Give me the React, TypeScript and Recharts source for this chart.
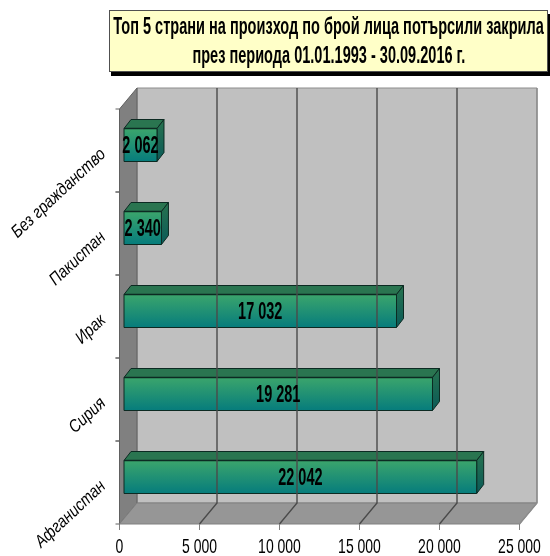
import { BarChart, Bar, XAxis, YAxis, ReferenceArea, ReferenceLine } from 'recharts';

const countries = ['Без гражданство', 'Пакистан', 'Ирак', 'Сирия', 'Афганистан'];
const applicants = [2062, 2340, 17032, 19281, 22042];
const valueTicks = [0, 5000, 10000, 15000, 20000, 25000];

const chartData = countries.map((name, i) => ({ name, value: applicants[i] }));

const SANS = '"Liberation Sans", sans-serif';
const PLOT_TOP = 109;
const DEPTH_X = 17.5;
const DEPTH_Y = -21;
const BAR_DX = 4.5;
const BAR_DY = -5.5;

type Pt = [number, number];

function pts(list: Pt[]) {
  return list.map((p) => p.join(',')).join(' ');
}

const fmt = (v: number) => String(v).replace(/\B(?=(\d{3})+$)/g, ' ');

function Walls({ x, y, width, height }: any) {
  const fl: Pt = [x, y];
  const fb: Pt = [x, y + height];
  const rt: Pt = [x + width, y];
  const rb: Pt = [x + width, y + height];
  const back = ([a, b]: Pt): Pt => [a + DEPTH_X, b + DEPTH_Y];
  return (
    <g>
      <polygon points={pts([back(fl), back(rt), back(rb), back(fb)])} fill="#c0c0c0" stroke="#8c8c8c" />
      <polygon points={pts([fl, back(fl), back(fb), fb])} fill="#808080" stroke="#606060" />
      <polygon points={pts([fb, back(fb), back(rb), rb])} fill="#969696" stroke="#808080" />
    </g>
  );
}

function GridLine({ x1, y1, y2 }: any) {
  const top = Math.min(y1, y2);
  const bottom = Math.max(y1, y2);
  const d = pts([
    [x1 + DEPTH_X, top + DEPTH_Y],
    [x1 + DEPTH_X, bottom + DEPTH_Y],
    [x1, bottom],
  ]);
  return <polyline points={d} fill="none" stroke={x1 >= 518 ? '#8c8c8c' : '#4a4a4a'} strokeWidth={1.4} />;
}

function Bar3D({ x, y, width, height }: any) {
  const l = x + BAR_DX;
  const t = y + BAR_DY;
  const a: Pt = [l, t];
  const b: Pt = [l + width, t];
  const c: Pt = [l + width, t + height];
  const d: Pt = [l, t + height];
  const shift = (p: Pt): Pt => [p[0] + 7, p[1] - 9];
  return (
    <g stroke="#0c2a22" strokeWidth={1}>
      <polygon points={pts([a, shift(a), shift(b), b])} fill="#2a7550" />
      <polygon points={pts([b, shift(b), shift(c), c])} fill="url(#sideFill)" />
      <polygon points={pts([a, b, c, d])} fill="url(#frontFill)" />
      <line x1={a[0]} y1={a[1]} x2={b[0]} y2={b[1]} strokeWidth={1.6} />
    </g>
  );
}

function BarValue({ x, y, width, height, value }: any) {
  const cx = x + width / 2 + BAR_DX;
  const cy = y + height / 2 + BAR_DY;
  return (
    <text
      transform={`translate(${cx} ${cy}) scale(0.63 1)`}
      textAnchor="middle"
      dominantBaseline="central"
      fontFamily={SANS}
      fontWeight="bold"
      fontSize={23}
      fill="#000"
    >
      {fmt(value)}
    </text>
  );
}

function CountryTick({ x, y, payload }: any) {
  const half = 41.5;
  const edge = x;
  return (
    <g>
      <line x1={edge - 4} x2={edge} y1={y + half} y2={y + half} stroke="#606060" />
      <line x1={edge - 4} x2={edge} y1={y - half} y2={y - half} stroke="#606060" />
      <text
        transform={`translate(${x - 13} ${y + 5}) rotate(-43) scale(0.84 1)`}
        textAnchor="end"
        fontFamily={SANS}
        fontStyle="italic"
        fontSize={17.5}
        fill="#000"
      >
        {payload.value}
      </text>
    </g>
  );
}

function ValueTick({ x, y, payload }: any) {
  return (
    <text
      transform={`translate(${x} ${y + 21}) scale(0.7 1)`}
      textAnchor="middle"
      fontFamily={SANS}
      fontSize={20}
      fill="#000"
    >
      {fmt(payload.value)}
    </text>
  );
}

export default function App() {
  return (
    <div style={{ position: 'absolute', left: 0, top: 0, width: 550, height: 556, background: '#fff', filter: 'blur(0.4px)' }}>
      <div
        style={{
          position: 'absolute',
          left: 109,
          top: 10,
          width: 437,
          height: 60,
          background: '#ffffc8',
          border: '1px solid #505050',
          boxShadow: '2px 4px 0 #000',
        }}
      />
      <div
        style={{
          position: 'absolute',
          left: 109,
          top: 12,
          width: 439,
          fontFamily: SANS,
          fontWeight: 'bold',
          fontSize: 23,
          lineHeight: '29px',
          color: '#000',
          whiteSpace: 'nowrap',
          display: 'flex',
          flexDirection: 'column',
          alignItems: 'center',
        }}
      >
        <div style={{ transform: 'scaleX(0.632)' }}>Топ 5 страни на произход по брой лица потърсили закрила</div>
        <div style={{ transform: 'scaleX(0.632)' }}>през периода 01.01.1993 - 30.09.2016 г.</div>
      </div>
      <BarChart
        width={550}
        height={556}
        data={chartData}
        layout="vertical"
        margin={{ top: PLOT_TOP, right: 30.5, bottom: 0, left: 0 }}
        barSize={33}
      >
        <defs>
          <linearGradient id="frontFill" x1="0" y1="0" x2="0" y2="1">
            <stop offset="0%" stopColor="#3ba56c" />
            <stop offset="100%" stopColor="#067c7c" />
          </linearGradient>
          <linearGradient id="sideFill" x1="0" y1="0" x2="0" y2="1">
            <stop offset="0%" stopColor="#28734f" />
            <stop offset="100%" stopColor="#0a5a58" />
          </linearGradient>
        </defs>
        <ReferenceArea x1={0} x2={25000} shape={<Walls />} ifOverflow="visible" />
        {valueTicks.slice(1).map((t) => (
          <ReferenceLine key={t} x={t} shape={<GridLine />} ifOverflow="visible" />
        ))}
        <XAxis
          type="number"
          domain={[0, 25000]}
          ticks={valueTicks}
          height={32}
          interval={0}
          tick={<ValueTick />}
          axisLine={false}
          tickLine={{ stroke: '#808080' }}
          tickSize={6}
        />
        <YAxis
          type="category"
          dataKey="name"
          width={119.5}
          interval={0}
          tick={<CountryTick />}
          axisLine={false}
          tickLine={false}
          tickMargin={0}
          tickSize={0}
        />
        <Bar dataKey="value" isAnimationActive={false} shape={<Bar3D />} label={<BarValue />} />
      </BarChart>
    </div>
  );
}
